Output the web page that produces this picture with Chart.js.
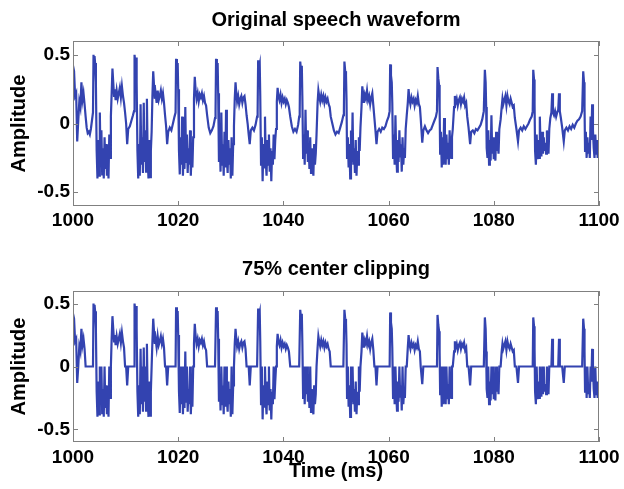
<!DOCTYPE html>
<html>
<head>
<meta charset="utf-8">
<title>Center clipping</title>
<script src="https://cdn.jsdelivr.net/npm/chart.js@4.4.1/dist/chart.umd.min.js"></script>
<style>
  html, body { margin: 0; padding: 0; background: #fff; }
  #wrap { position: relative; width: 624px; height: 489px; }
  canvas { position: absolute; left: 0; }
</style>
</head>
<body>
<div id="wrap">
  <canvas id="topChart" width="624" height="245" style="top:0"></canvas>
  <canvas id="bottomChart" width="624" height="244" style="top:245px"></canvas>
</div>
<script>
// sample times (ms)
const timeMs = [
  1000.0, 1000.2, 1000.4, 1000.6, 1000.8, 1001.0, 1001.2, 1001.4, 1001.6, 1001.8, 1002.0, 1002.2, 1002.4, 1002.6, 1002.8, 1003.0, 1003.2, 1003.4, 1003.6, 1003.8,
  1003.9, 1004.0, 1004.1, 1004.2, 1004.35, 1004.5, 1004.65, 1004.8, 1004.95, 1005.1, 1005.25, 1005.4, 1005.55, 1005.7, 1005.85, 1006.0, 1006.15, 1006.3, 1006.45, 1006.6, 1006.75, 1006.9, 1007.05, 1007.2,
  1007.35, 1007.5, 1007.65, 1007.8, 1007.95, 1008.1, 1008.3, 1008.5, 1008.7, 1008.9, 1009.1, 1009.3, 1009.5, 1009.7, 1009.9, 1010.1, 1010.3, 1010.5, 1010.8, 1011.1, 1011.4, 1011.6,
  1011.7, 1011.85, 1012.0, 1012.1, 1012.25, 1012.4, 1012.55, 1012.7, 1012.85, 1013.0, 1013.15, 1013.3, 1013.45, 1013.6, 1013.75, 1013.9, 1014.05, 1014.2, 1014.35, 1014.5, 1014.65, 1014.8, 1014.95,
  1015.1, 1015.25, 1015.4, 1015.55, 1015.7, 1015.9, 1016.1, 1016.3, 1016.5, 1016.7, 1016.9, 1017.1, 1017.3, 1017.5, 1017.7, 1017.9, 1018.1, 1018.4, 1018.7, 1019.0, 1019.3, 1019.5,
  1019.6, 1019.75, 1019.9, 1020.0, 1020.15, 1020.3, 1020.45, 1020.6, 1020.75, 1020.9, 1021.05, 1021.2, 1021.35, 1021.5, 1021.65, 1021.8, 1021.95, 1022.1, 1022.25, 1022.4, 1022.55, 1022.7, 1022.85,
  1023.0, 1023.15, 1023.3, 1023.5, 1023.7, 1023.9, 1024.1, 1024.3, 1024.5, 1024.7, 1024.9, 1025.1, 1025.3, 1025.5, 1025.8, 1026.1, 1026.4, 1026.7, 1027.0, 1027.1,
  1027.2, 1027.35, 1027.5, 1027.6, 1027.75, 1027.9, 1028.05, 1028.2, 1028.35, 1028.5, 1028.65, 1028.8, 1028.95, 1029.1, 1029.25, 1029.4, 1029.55, 1029.7, 1029.85, 1030.0, 1030.15, 1030.3, 1030.45, 1030.6,
  1030.75, 1030.9, 1031.05, 1031.2, 1031.4, 1031.6, 1031.8, 1032.0, 1032.2, 1032.4, 1032.6, 1032.8, 1033.0, 1033.2, 1033.4, 1033.6, 1033.8, 1034.1, 1034.4, 1034.7, 1035.0, 1035.1,
  1035.2, 1035.35, 1035.5, 1035.6, 1035.75, 1035.9, 1036.05, 1036.2, 1036.35, 1036.5, 1036.65, 1036.8, 1036.95, 1037.1, 1037.25, 1037.4, 1037.55, 1037.7, 1037.85, 1038.0, 1038.15, 1038.3, 1038.45, 1038.6,
  1038.75, 1038.9, 1039.05, 1039.25, 1039.45, 1039.65, 1039.85, 1040.05, 1040.25, 1040.45, 1040.65, 1040.85, 1041.05, 1041.3, 1041.6, 1041.9, 1042.2, 1042.5, 1042.8, 1043.0, 1043.1,
  1043.2, 1043.35, 1043.5, 1043.6, 1043.75, 1043.9, 1044.05, 1044.2, 1044.35, 1044.5, 1044.65, 1044.8, 1044.95, 1045.1, 1045.25, 1045.4, 1045.55, 1045.7, 1045.85, 1046.0, 1046.15, 1046.3,
  1046.5, 1046.65, 1046.8, 1047.0, 1047.2, 1047.4, 1047.6, 1047.8, 1048.0, 1048.2, 1048.4, 1048.6, 1048.8, 1049.0, 1049.3, 1049.6, 1049.9, 1050.2, 1050.5, 1050.8, 1051.1, 1051.4, 1051.5,
  1051.6, 1051.75, 1051.9, 1052.0, 1052.1, 1052.25, 1052.4, 1052.55, 1052.7, 1052.85, 1053.0, 1053.15, 1053.3, 1053.45, 1053.6, 1053.75, 1053.9, 1054.05, 1054.2, 1054.35, 1054.5, 1054.65,
  1054.85, 1055.0, 1055.15, 1055.3, 1055.5, 1055.7, 1055.9, 1056.1, 1056.3, 1056.5, 1056.7, 1056.9, 1057.1, 1057.3, 1057.5, 1057.7, 1057.9, 1058.2, 1058.5, 1058.8, 1059.1, 1059.4, 1059.7, 1060.0, 1060.2,
  1060.3, 1060.45, 1060.6, 1060.7, 1060.85, 1061.0, 1061.15, 1061.3, 1061.45, 1061.6, 1061.75, 1061.9, 1062.05, 1062.2, 1062.35, 1062.5, 1062.65, 1062.8, 1062.95, 1063.1, 1063.25,
  1063.45, 1063.65, 1063.8, 1063.95, 1064.15, 1064.35, 1064.55, 1064.75, 1064.95, 1065.15, 1065.35, 1065.55, 1065.75, 1065.95, 1066.1, 1066.4, 1066.6, 1066.9, 1067.2, 1067.5, 1067.8, 1068.1, 1068.4, 1068.7, 1069.0, 1069.2,
  1069.3, 1069.45, 1069.6, 1069.7, 1069.8, 1069.95, 1070.1, 1070.25, 1070.4, 1070.55, 1070.7, 1070.85, 1071.0, 1071.15, 1071.3, 1071.45, 1071.6, 1071.75, 1071.9, 1072.05, 1072.2,
  1072.45, 1072.6, 1072.75, 1072.95, 1073.15, 1073.35, 1073.55, 1073.75, 1073.95, 1074.15, 1074.35, 1074.55, 1074.75, 1074.95, 1075.2, 1075.5, 1075.7, 1076.0, 1076.3, 1076.6, 1076.9, 1077.2, 1077.5, 1077.8, 1078.1,
  1078.3, 1078.45, 1078.55, 1078.65, 1078.8, 1078.95, 1079.1, 1079.25, 1079.4, 1079.55, 1079.7, 1079.85, 1080.0, 1080.15, 1080.3, 1080.45, 1080.6, 1080.75, 1080.9, 1081.05,
  1081.3, 1081.5, 1081.65, 1081.8, 1082.0, 1082.2, 1082.4, 1082.6, 1082.8, 1083.0, 1083.2, 1083.4, 1083.6, 1083.8, 1084.0, 1084.3, 1084.6, 1084.8, 1085.1, 1085.4, 1085.7, 1086.0, 1086.3, 1086.6, 1086.9, 1087.2, 1087.4,
  1087.5, 1087.65, 1087.75, 1087.85, 1088.0, 1088.15, 1088.3, 1088.45, 1088.6, 1088.75, 1088.9, 1089.05, 1089.2, 1089.35, 1089.5, 1089.65, 1089.8, 1089.95, 1090.1, 1090.25, 1090.4, 1090.55,
  1090.75, 1090.95, 1091.1, 1091.25, 1091.45, 1091.65, 1091.85, 1092.05, 1092.25, 1092.4, 1092.55, 1092.75, 1093.0, 1093.3, 1093.5, 1093.8, 1094.1, 1094.4, 1094.7, 1095.0, 1095.3, 1095.6, 1095.9, 1096.2, 1096.5, 1096.8,
  1097.0, 1097.15, 1097.25, 1097.35, 1097.5, 1097.65, 1097.8, 1097.95, 1098.1, 1098.25, 1098.4, 1098.55, 1098.7, 1098.85, 1099.0, 1099.15, 1099.3, 1099.45, 1099.6, 1099.75, 1099.9, 1100.0
];

// original speech waveform
const originalAmp = [
  0.42, 0.38, 0.20, 0.22, -0.13, 0.02, 0.16, 0.12, 0.30, 0.17, 0.22, 0.14, 0.05, -0.03, -0.07, -0.06, -0.08, -0.04, 0.02, 0.08,
  0.50, 0.42, 0.49, 0.44, 0.30, -0.20, -0.40, -0.12, -0.38, 0.08, -0.30, -0.05, -0.37, -0.18, -0.40, -0.10, -0.33, -0.15, -0.38, -0.22, -0.40, -0.08, -0.25, 0.05,
  0.22, 0.40, 0.30, 0.20, 0.25, 0.17, 0.24, 0.18, 0.22, 0.26, 0.19, 0.27, 0.20, 0.15, 0.08, 0.00, -0.15, -0.04, -0.02, 0.02, 0.06, 0.09,
  0.50, 0.44, 0.48, 0.30, -0.20, -0.40, -0.15, -0.38, 0.14, -0.30, -0.10, -0.36, 0.15, -0.28, -0.05, -0.35, 0.18, -0.25, -0.40, -0.12, -0.39, -0.20, -0.06,
  0.20, 0.38, 0.28, 0.18, 0.22, 0.15, 0.24, 0.17, 0.20, 0.24, 0.18, 0.22, 0.15, 0.06, -0.02, -0.15, -0.06, -0.03, -0.05, 0.00, 0.05, 0.08,
  0.47, 0.40, 0.44, 0.25, -0.20, -0.37, -0.10, -0.30, 0.05, -0.38, -0.15, -0.33, 0.12, -0.28, -0.08, -0.36, -0.18, -0.30, -0.05, -0.38, -0.20, -0.32, -0.10,
  0.18, 0.34, 0.25, 0.18, 0.22, 0.16, 0.21, 0.19, 0.22, 0.17, 0.20, 0.15, 0.13, 0.06, -0.03, -0.07, -0.05, -0.02, 0.04, 0.09,
  0.47, 0.40, 0.44, 0.22, -0.28, -0.12, -0.35, 0.08, -0.30, -0.15, -0.38, -0.06, -0.32, 0.10, -0.25, -0.36, -0.12, -0.30, -0.18, -0.40, -0.10, -0.38, -0.15, -0.02,
  0.18, 0.30, 0.22, 0.16, 0.20, 0.14, 0.18, 0.20, 0.15, 0.19, 0.20, 0.14, 0.06, 0.00, -0.08, -0.15, -0.05, -0.03, -0.05, -0.01, 0.05, 0.09,
  0.46, 0.40, 0.43, 0.20, -0.30, -0.10, -0.42, -0.15, -0.32, 0.05, -0.28, -0.38, -0.12, -0.30, -0.08, -0.35, -0.18, -0.42, -0.20, -0.30, -0.08, -0.26, -0.12, -0.04,
  0.16, 0.26, 0.20, 0.17, 0.21, 0.15, 0.19, 0.16, 0.18, 0.14, 0.17, 0.15, 0.12, 0.05, -0.02, -0.06, -0.04, -0.06, -0.01, 0.05, 0.09,
  0.45, 0.38, 0.42, 0.20, -0.25, -0.08, -0.30, 0.10, -0.22, -0.05, -0.28, -0.15, -0.33, -0.10, -0.36, -0.18, -0.30, -0.38, -0.15, -0.30, -0.22, -0.08,
  0.15, 0.24, 0.20, 0.16, 0.21, 0.17, 0.20, 0.15, 0.19, 0.16, 0.18, 0.14, 0.12, 0.05, 0.00, -0.05, -0.08, -0.06, -0.07, -0.03, 0.01, 0.06, 0.09,
  0.45, 0.38, 0.35, 0.18, -0.25, -0.10, -0.32, -0.15, -0.40, -0.05, -0.28, 0.08, -0.30, -0.18, -0.36, -0.12, -0.38, -0.20, -0.30, -0.10, -0.20, -0.03,
  0.12, 0.27, 0.22, 0.15, 0.21, 0.18, 0.24, 0.17, 0.20, 0.14, 0.19, 0.22, 0.13, 0.04, -0.05, -0.15, -0.06, -0.04, -0.06, -0.03, -0.04, -0.02, 0.02, 0.05, 0.09,
  0.43, 0.35, 0.30, 0.15, -0.25, -0.08, -0.30, 0.06, -0.22, -0.35, -0.12, -0.28, -0.05, -0.24, -0.15, -0.35, -0.10, -0.30, -0.18, -0.25, -0.04,
  0.06, 0.15, 0.25, 0.18, 0.14, 0.19, 0.16, 0.18, 0.13, 0.17, 0.15, 0.20, 0.14, 0.12, 0.04, -0.14, -0.05, -0.02, -0.05, -0.07, -0.05, -0.04, -0.01, 0.02, 0.05, 0.09,
  0.41, 0.33, 0.28, 0.12, -0.22, -0.06, -0.32, -0.10, -0.30, 0.04, -0.20, -0.30, -0.08, -0.26, -0.14, -0.30, -0.05, -0.22, -0.25, -0.10, -0.04,
  0.12, 0.20, 0.15, 0.18, 0.13, 0.17, 0.19, 0.14, 0.18, 0.16, 0.19, 0.13, 0.15, 0.05, -0.03, -0.15, -0.06, -0.05, -0.07, -0.04, -0.05, -0.03, -0.01, 0.03, 0.09,
  0.39, 0.30, 0.12, -0.18, -0.25, -0.05, -0.30, -0.12, -0.27, 0.06, -0.22, -0.10, -0.26, -0.15, -0.27, -0.06, -0.20, -0.12, -0.22, -0.04,
  0.03, 0.12, 0.18, 0.14, 0.17, 0.20, 0.13, 0.20, 0.16, 0.14, 0.18, 0.15, 0.12, 0.13, 0.04, -0.04, -0.13, -0.05, -0.03, -0.05, -0.02, -0.04, -0.02, 0.00, 0.03, 0.05, 0.09,
  0.39, 0.32, 0.14, -0.20, -0.30, -0.08, -0.26, -0.12, -0.25, 0.05, -0.18, -0.24, -0.06, -0.22, -0.10, -0.20, -0.14, -0.22, -0.05, -0.16, -0.22, -0.04,
  0.04, 0.08, 0.22, 0.08, 0.06, 0.09, 0.05, 0.08, 0.10, 0.22, 0.09, 0.04, -0.03, -0.13, -0.05, -0.03, -0.05, -0.02, -0.04, -0.01, -0.03, 0.00, 0.02, 0.03, 0.05, 0.09,
  0.38, 0.30, 0.12, -0.20, -0.06, -0.25, -0.10, -0.22, -0.14, -0.25, 0.05, -0.12, 0.14, -0.05, -0.18, -0.25, -0.08, -0.22, -0.12, -0.25, -0.15, -0.20
];

// 75% center clipped waveform
const clippedAmp = [
  0.42, 0.38, 0.20, 0.22, -0.13, 0, 0.16, 0.12, 0.30, 0.17, 0.22, 0.14, 0, 0, 0, 0, 0, 0, 0, 0,
  0.50, 0.42, 0.49, 0.44, 0.30, -0.20, -0.40, -0.12, -0.38, 0, -0.30, 0, -0.37, -0.18, -0.40, 0, -0.33, -0.15, -0.38, -0.22, -0.40, 0, -0.25, 0,
  0.22, 0.40, 0.30, 0.20, 0.25, 0.17, 0.24, 0.18, 0.22, 0.26, 0.19, 0.27, 0.20, 0.15, 0, 0, -0.15, 0, 0, 0, 0, 0,
  0.50, 0.44, 0.48, 0.30, -0.20, -0.40, -0.15, -0.38, 0.14, -0.30, 0, -0.36, 0.15, -0.28, 0, -0.35, 0.18, -0.25, -0.40, -0.12, -0.39, -0.20, 0,
  0.20, 0.38, 0.28, 0.18, 0.22, 0.15, 0.24, 0.17, 0.20, 0.24, 0.18, 0.22, 0.15, 0, 0, -0.15, 0, 0, 0, 0, 0, 0,
  0.47, 0.40, 0.44, 0.25, -0.20, -0.37, 0, -0.30, 0, -0.38, -0.15, -0.33, 0.12, -0.28, 0, -0.36, -0.18, -0.30, 0, -0.38, -0.20, -0.32, 0,
  0.18, 0.34, 0.25, 0.18, 0.22, 0.16, 0.21, 0.19, 0.22, 0.17, 0.20, 0.15, 0.13, 0, 0, 0, 0, 0, 0, 0,
  0.47, 0.40, 0.44, 0.22, -0.28, -0.12, -0.35, 0, -0.30, -0.15, -0.38, 0, -0.32, 0, -0.25, -0.36, -0.12, -0.30, -0.18, -0.40, 0, -0.38, -0.15, 0,
  0.18, 0.30, 0.22, 0.16, 0.20, 0.14, 0.18, 0.20, 0.15, 0.19, 0.20, 0.14, 0, 0, 0, -0.15, 0, 0, 0, 0, 0, 0,
  0.46, 0.40, 0.43, 0.20, -0.30, 0, -0.42, -0.15, -0.32, 0, -0.28, -0.38, -0.12, -0.30, 0, -0.35, -0.18, -0.42, -0.20, -0.30, 0, -0.26, -0.12, 0,
  0.16, 0.26, 0.20, 0.17, 0.21, 0.15, 0.19, 0.16, 0.18, 0.14, 0.17, 0.15, 0.12, 0, 0, 0, 0, 0, 0, 0, 0,
  0.45, 0.38, 0.42, 0.20, -0.25, 0, -0.30, 0, -0.22, 0, -0.28, -0.15, -0.33, 0, -0.36, -0.18, -0.30, -0.38, -0.15, -0.30, -0.22, 0,
  0.15, 0.24, 0.20, 0.16, 0.21, 0.17, 0.20, 0.15, 0.19, 0.16, 0.18, 0.14, 0.12, 0, 0, 0, 0, 0, 0, 0, 0, 0, 0,
  0.45, 0.38, 0.35, 0.18, -0.25, 0, -0.32, -0.15, -0.40, 0, -0.28, 0, -0.30, -0.18, -0.36, -0.12, -0.38, -0.20, -0.30, 0, -0.20, 0,
  0.12, 0.27, 0.22, 0.15, 0.21, 0.18, 0.24, 0.17, 0.20, 0.14, 0.19, 0.22, 0.13, 0, 0, -0.15, 0, 0, 0, 0, 0, 0, 0, 0, 0,
  0.43, 0.35, 0.30, 0.15, -0.25, 0, -0.30, 0, -0.22, -0.35, -0.12, -0.28, 0, -0.24, -0.15, -0.35, 0, -0.30, -0.18, -0.25, 0,
  0, 0.15, 0.25, 0.18, 0.14, 0.19, 0.16, 0.18, 0.13, 0.17, 0.15, 0.20, 0.14, 0.12, 0, -0.14, 0, 0, 0, 0, 0, 0, 0, 0, 0, 0,
  0.41, 0.33, 0.28, 0.12, -0.22, 0, -0.32, 0, -0.30, 0, -0.20, -0.30, 0, -0.26, -0.14, -0.30, 0, -0.22, -0.25, 0, 0,
  0.12, 0.20, 0.15, 0.18, 0.13, 0.17, 0.19, 0.14, 0.18, 0.16, 0.19, 0.13, 0.15, 0, 0, -0.15, 0, 0, 0, 0, 0, 0, 0, 0, 0,
  0.39, 0.30, 0.12, -0.18, -0.25, 0, -0.30, -0.12, -0.27, 0, -0.22, 0, -0.26, -0.15, -0.27, 0, -0.20, -0.12, -0.22, 0,
  0, 0.12, 0.18, 0.14, 0.17, 0.20, 0.13, 0.20, 0.16, 0.14, 0.18, 0.15, 0.12, 0.13, 0, 0, -0.13, 0, 0, 0, 0, 0, 0, 0, 0, 0, 0,
  0.39, 0.32, 0.14, -0.20, -0.30, 0, -0.26, -0.12, -0.25, 0, -0.18, -0.24, 0, -0.22, 0, -0.20, -0.14, -0.22, 0, -0.16, -0.22, 0,
  0, 0, 0.22, 0, 0, 0, 0, 0, 0, 0.22, 0, 0, 0, -0.13, 0, 0, 0, 0, 0, 0, 0, 0, 0, 0, 0, 0,
  0.38, 0.30, 0.12, -0.20, 0, -0.25, 0, -0.22, -0.14, -0.25, 0, -0.12, 0.14, 0, -0.18, -0.25, 0, -0.22, -0.12, -0.25, -0.15, -0.20
];

const xTicks = [1000, 1020, 1040, 1060, 1080, 1100];
const yTicks = [-0.5, 0, 0.5];

const fontFamily = '"Liberation Sans", Arial, Helvetica, sans-serif';
const tickFont = { family: fontFamily, size: 19, weight: 'bold', lineHeight: 1.2 };
const labelFont = { family: fontFamily, size: 20, weight: 'bold', lineHeight: 1.2 };
const lineColor = '#3343b0';

// box around the plot area with inward tick marks, like MATLAB axes
const framePlugin = {
  id: 'matlabFrame',
  afterDraw(chart) {
    const { ctx, chartArea: a, scales: { x, y } } = chart;
    ctx.save();
    ctx.strokeStyle = '#808080';
    ctx.lineWidth = 1;
    ctx.strokeRect(a.left + 0.5, a.top + 0.5, a.width - 1, a.height - 1);
    ctx.beginPath();
    x.ticks.forEach(t => {
      const px = Math.round(x.getPixelForValue(t.value)) + 0.5;
      ctx.moveTo(px, a.bottom); ctx.lineTo(px, a.bottom - 5);
      ctx.moveTo(px, a.top); ctx.lineTo(px, a.top + 5);
    });
    y.ticks.forEach(t => {
      const py = Math.round(y.getPixelForValue(t.value)) + 0.5;
      ctx.moveTo(a.left, py); ctx.lineTo(a.left + 5, py);
      ctx.moveTo(a.right, py); ctx.lineTo(a.right - 5, py);
    });
    ctx.stroke();
    ctx.restore();
  }
};

function makeChart(canvasId, values, opts) {
  const ctx = document.getElementById(canvasId).getContext('2d');
  return new Chart(ctx, {
    type: 'line',
    data: {
      datasets: [{
        data: timeMs.map((t, i) => ({ x: t, y: values[i] })),
        borderColor: lineColor,
        borderWidth: 2.2,
        borderJoinStyle: 'miter',
        pointRadius: 0,
        tension: 0,
        fill: false
      }]
    },
    options: {
      responsive: false,
      animation: false,
      layout: { padding: { left: 0, right: 25, top: 0, bottom: 0 } },
      plugins: {
        legend: { display: false },
        tooltip: { enabled: false },
        title: {
          display: true,
          text: opts.title,
          color: '#000',
          font: labelFont,
          fullSize: false,
          padding: opts.titlePad
        }
      },
      scales: {
        x: {
          type: 'linear',
          min: 1000,
          max: 1100,
          grid: { display: false, drawTicks: false },
          border: { display: false },
          afterBuildTicks: s => { s.ticks = xTicks.map(v => ({ value: v })); },
          afterFit: s => { s.height = opts.xHeight; },
          ticks: {
            color: '#000',
            font: tickFont,
            padding: opts.xTickPad,
            maxRotation: 0,
            autoSkip: false,
            callback: v => String(v)
          },
          title: opts.xTitle
            ? { display: true, text: opts.xTitle, color: '#000', font: labelFont, padding: { top: 0, bottom: 6 } }
            : { display: false }
        },
        y: {
          min: -0.6,
          max: 0.6,
          grid: { display: false, drawTicks: false },
          border: { display: false },
          afterBuildTicks: s => { s.ticks = yTicks.map(v => ({ value: v })); },
          afterFit: s => { s.width = 73; },
          ticks: {
            color: '#000',
            font: tickFont,
            padding: 3,
            callback: v => String(v)
          },
          title: { display: true, text: 'Amplitude', color: '#000', font: labelFont, padding: { top: 7.5, bottom: 0 } }
        }
      }
    },
    plugins: [framePlugin]
  });
}

makeChart('topChart', originalAmp, {
  title: 'Original speech waveform',
  titlePad: { top: 8.5, bottom: 8.5 },
  xHeight: 39,
  xTickPad: 3
});

makeChart('bottomChart', clippedAmp, {
  title: '75% center clipping',
  titlePad: { top: 12, bottom: 10 },
  xHeight: 47,
  xTickPad: 4,
  xTitle: 'Time (ms)'
});
</script>
</body>
</html>
